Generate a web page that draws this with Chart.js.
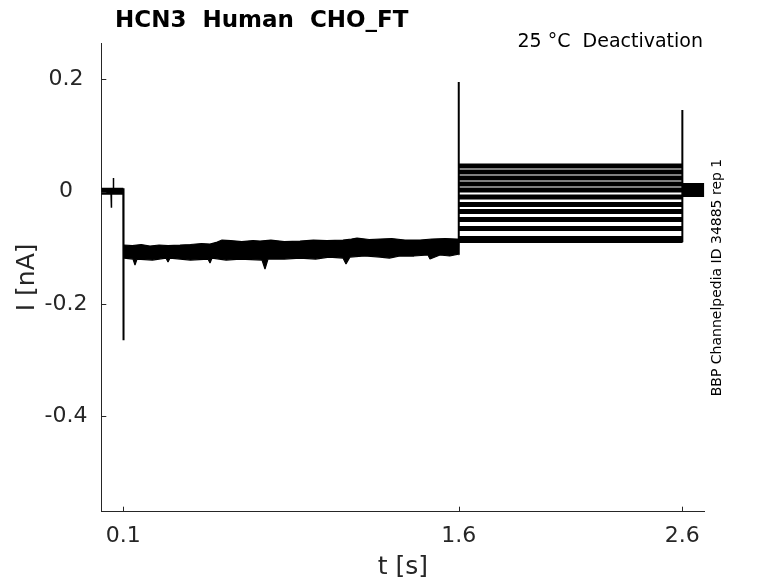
<!DOCTYPE html>
<html><head><meta charset="utf-8">
<script src="https://cdn.jsdelivr.net/npm/chart.js@4.4.0/dist/chart.umd.min.js"></script>
<style>html,body{margin:0;padding:0;background:#fff;overflow:hidden}canvas{display:block}</style>
</head><body>
<canvas id="c" width="778" height="583"></canvas>
<script>
// ---- data (time in s, current in nA) ----
const xTicks = [0.1, 1.6, 2.6];
const yTicks = [0.2, 0, -0.2, -0.4];
const xRange = [0.0016, 2.6984];
const yRange = [-0.5705, 0.2647];

const holdT = [0.0016, 0.1];
const holdI = [0.0005, 0.0005];
const blipT = [0.030, 0.045, 0.046, 0.048, 0.054, 0.0553, 0.057, 0.07];
const blipI = [0.0005, 0.0005, -0.029, 0.0005, 0.0005, 0.024, 0.0005, 0.0005];
const onsetT = [0.1, 0.1005, 0.1015];
const onsetI = [0.006, -0.265, -0.105];

const bandUpperT = [0.1031, 0.14, 0.18, 0.2194, 0.26, 0.3, 0.3536, 0.40, 0.45, 0.4878, 0.52, 0.5414, 0.58, 0.63, 0.68, 0.7114, 0.76, 0.82, 0.8903, 0.95, 1.01, 1.0826, 1.12, 1.1453, 1.20, 1.2481, 1.30, 1.36, 1.427, 1.48, 1.54, 1.5925, 1.6];
const bandUpperI = [-0.0953, -0.0962, -0.0944, -0.0971, -0.0953, -0.0962, -0.0953, -0.0944, -0.0926, -0.0936, -0.0900, -0.0864, -0.0873, -0.0891, -0.0873, -0.0882, -0.0864, -0.0891, -0.0882, -0.0864, -0.0873, -0.0864, -0.0846, -0.0829, -0.0855, -0.0846, -0.0837, -0.0864, -0.0864, -0.0846, -0.0837, -0.0846, -0.0846];
const bandLowerT = [1.6, 1.5969, 1.56, 1.5164, 1.4716, 1.4627, 1.40, 1.3375, 1.29, 1.2480, 1.18, 1.1139, 1.0960, 1.0826, 1.02, 0.96, 0.8903, 0.82, 0.7471, 0.7337, 0.7203, 0.6219, 0.56, 0.4967, 0.4878, 0.4788, 0.40, 0.3089, 0.2999, 0.2910, 0.23, 0.1613, 0.1523, 0.1434, 0.1031];
const bandLowerI = [-0.1114, -0.1114, -0.1149, -0.1131, -0.1203, -0.1131, -0.1149, -0.1149, -0.1185, -0.1167, -0.1149, -0.1167, -0.1292, -0.1185, -0.1167, -0.1203, -0.1185, -0.1203, -0.1203, -0.1381, -0.1221, -0.1203, -0.1221, -0.1185, -0.1274, -0.1203, -0.1221, -0.1185, -0.1256, -0.1185, -0.1221, -0.1203, -0.1310, -0.1203, -0.1185];

const postT = [1.6, 2.6];
const postLevels = [0.0454, 0.0347, 0.0241, 0.0134, 0.0027, -0.0098, -0.0232, -0.0357, -0.0499, -0.0659, -0.0855];

const stepUpT = [1.6, 1.6, 1.6005];
const stepUpI = [-0.112, 0.1951, 0.045];
const stepBackT = [2.6, 2.6, 2.6005];
const stepBackI = [-0.09, 0.1452, 0.002];
const tailT = [2.6, 2.6984];
const tailI = [0.0027, 0.0027];

// ---- build datasets ----
const pts = (T, I) => T.map((t, i) => ({x: t, y: I[i]}));
const line = (data, w, extra) => Object.assign({
  data, borderColor: '#000', backgroundColor: '#000', borderWidth: w,
  pointRadius: 0, showLine: true, fill: false, borderJoinStyle: 'bevel', tension: 0
}, extra || {});

const datasets = [
  line(pts(holdT, holdI), 7),
  line(pts(blipT, blipI), 1.5),
  line(pts(onsetT, onsetI), 2),
  line(pts(bandUpperT, bandUpperI).concat(pts(bandLowerT, bandLowerI)), 1.2, {fill: 'shape'}),
];
postLevels.forEach((v, k) => {
  datasets.push(line(pts(postT, [v, v]), k === postLevels.length - 1 ? 7 : 5));
});
datasets.push(line(pts(stepUpT, stepUpI), 2));
datasets.push(line(pts(stepBackT, stepBackI), 2));
datasets.push(line(pts(tailT, tailI), 14));

const AX = '#262626';
const FONT = 'DejaVu Sans';

const deco = {
  id: 'deco',
  afterDraw(chart) {
    const ctx = chart.ctx, a = chart.chartArea;
    const xs = chart.scales.x, ys = chart.scales.y;
    ctx.save();
    ctx.strokeStyle = AX; ctx.lineWidth = 1;
    ctx.beginPath();
    xs.ticks.forEach(t => { const p = Math.round(xs.getPixelForValue(t.value)) + 0.5; ctx.moveTo(p, a.bottom); ctx.lineTo(p, a.bottom - 5); });
    ys.ticks.forEach(t => { const p = Math.round(ys.getPixelForValue(t.value)) + 0.5; ctx.moveTo(a.left, p); ctx.lineTo(a.left + 5, p); });
    ctx.stroke();
    ctx.fillStyle = '#000';
    ctx.textBaseline = 'alphabetic';
    ctx.textAlign = 'left';
    ctx.font = 'bold 23px "' + FONT + '"';
    ctx.fillText('HCN3  Human  CHO_FT', 115, 27);
    ctx.font = '19px "' + FONT + '"';
    ctx.textAlign = 'right';
    ctx.fillText('25 °C  Deactivation', 703, 47);
    ctx.translate(721, 277.5);
    ctx.rotate(-Math.PI / 2);
    ctx.textAlign = 'center';
    ctx.font = '14px "' + FONT + '"';
    ctx.fillText('BBP Channelpedia ID 34885 rep 1', 0, 0);
    ctx.restore();
  }
};

new Chart(document.getElementById('c'), {
  type: 'scatter',
  data: { datasets },
  plugins: [deco],
  options: {
    responsive: false, animation: false, devicePixelRatio: 1,
    layout: { padding: { left: 0, right: 73.7, top: 43, bottom: 0 } },
    plugins: { legend: { display: false }, tooltip: { enabled: false }, title: { display: false } },
    scales: {
      x: {
        type: 'linear', position: 'bottom', min: xRange[0], max: xRange[1],
        grid: { display: false, drawTicks: false },
        border: { display: true, color: AX, width: 1 },
        afterBuildTicks: s => { s.ticks = xTicks.map(v => ({ value: v })); },
        afterFit: s => { s.height = 71.3; },
        ticks: { color: AX, padding: 11, maxRotation: 0, autoSkip: false, font: { family: FONT, size: 22 },
          callback: v => String(v) },
        title: { display: true, text: 't [s]', color: AX, font: { family: FONT, size: 25 }, padding: { top: 0, bottom: 1 } }
      },
      y: {
        type: 'linear', position: 'left', min: yRange[0], max: yRange[1],
        grid: { display: false, drawTicks: false },
        border: { display: true, color: AX, width: 1 },
        afterBuildTicks: s => { s.ticks = yTicks.map(v => ({ value: v })); },
        afterFit: s => { s.width = 101.3; },
        ticks: { color: AX, padding: 13.8, crossAlign: 'center', autoSkip: false, font: { family: FONT, size: 22 },
          callback: v => (v === 0 ? '0' : v.toFixed(1)) },
        title: { display: true, text: 'I [nA]', color: AX, font: { family: FONT, size: 25 }, padding: { top: 12, bottom: 0 } }
      }
    }
  }
});
</script>
</body></html>
